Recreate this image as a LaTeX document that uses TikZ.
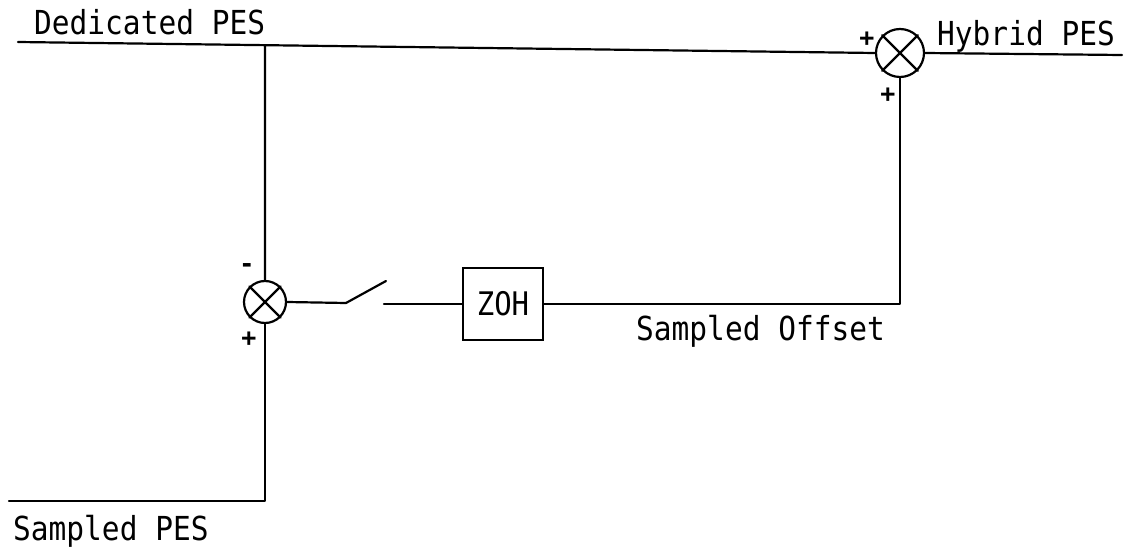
\documentclass[tikz,border=0pt]{standalone}
\usepackage{fontspec}
\setmonofont{DejaVu Sans Mono}
\usetikzlibrary{calc}
\newcommand{\tallT}[1]{\scalebox{1}[1.12]{#1}}
\begin{document}
\begin{tikzpicture}[x=1pt,y=-1pt,
  wire/.style={line width=2.2pt, line cap=round, line join=round},
  summer/.style={circle, draw, line width=2.2pt, minimum size=#1, inner sep=0pt},
  blk/.style={draw, line width=2.2pt, minimum width=80pt, minimum height=72pt, inner sep=0pt, font=\ttfamily\fontsize{29}{30}\selectfont},
  lbl/.style={anchor=base west, inner sep=0pt, font=\ttfamily\fontsize{29.5}{30}\selectfont},
  sgn/.style={inner sep=0pt, font=\ttfamily\bfseries\fontsize{25}{25}\selectfont}]
\useasboundingbox (0,0) rectangle (1129,548);

% summers
\node[summer=48pt] (S1) at (900,53) {};
\draw[wire] (S1.north west) -- (S1.south east) (S1.north east) -- (S1.south west);
\node[summer=42pt] (S2) at (265,302) {};
\draw[wire] (S2.north west) -- (S2.south east) (S2.north east) -- (S2.south west);

% ZOH block
\node[blk] (Z) at (503,304) {\tallT{ZOH}};

% coordinates
\coordinate (tl) at (18,42);
\coordinate (out) at (1122,55);
\coordinate (bl) at (9,501);
\coordinate (sw1) at (346,303);
\coordinate (sw2) at (386,281);
\coordinate (sw3) at (384,304);
\coordinate (tj) at (intersection of tl--S1.west and S2.north--S2.center);
\coordinate (bc) at (S2.south |- bl);
\coordinate (rc) at (S1.south |- Z.east);

% wires
\draw[wire] (tl) -- (S1.west);
\draw[wire] (S1.east) -- (out);
\draw[wire] (tj) -- (S2.north);
\draw[wire] (S2.south) -- (bc) -- (bl);
\draw[wire] (S2.east) -- (sw1) -- (sw2);
\draw[wire] (sw3) -- (Z.west);
\draw[wire] (Z.east) -- (rc) -- (S1.south);

% labels
\node[lbl] (tDed) at (34,35) {\tallT{Dedicated PES}};
\node[lbl] (tHyb) at (937,46) {\tallT{Hybrid PES}};
\node[lbl] (tOff) at (636,340) {\tallT{Sampled Offset}};
\node[lbl] (tSam) at (13,540) {\tallT{Sampled PES}};

% signs
\node[sgn] (p1) at (867,39) {+};
\node[sgn] (p2) at (888,95) {+};
\node[sgn] (m3) at (247,268) {-};
\node[sgn] (p4) at (249,339) {+};
\end{tikzpicture}
\end{document}
